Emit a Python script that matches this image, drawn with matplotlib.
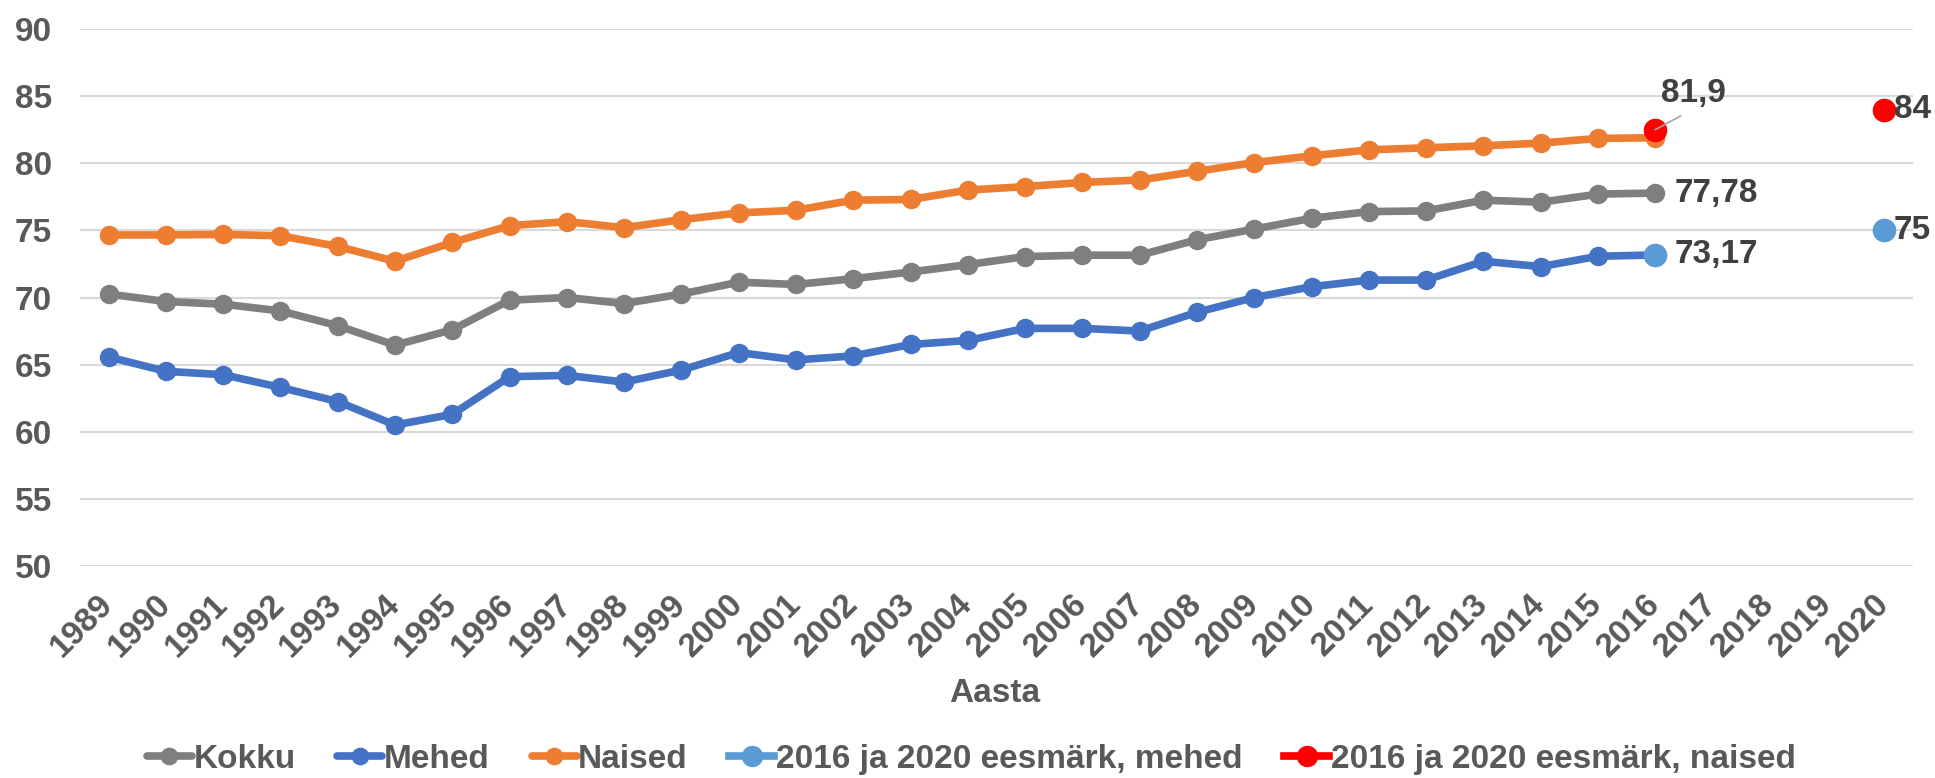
"""Eeldatav eluiga sünnimomendil, 1989-2016, koos 2016 ja 2020 eesmärkidega."""

import matplotlib
matplotlib.use("Agg")
import matplotlib.pyplot as plt
import numpy as np

years = [str(y) for y in range(1989, 2021)]

kokku = [70.26, 69.7, 69.5, 69.0, 67.9, 66.45, 67.6, 69.8, 70.0, 69.55, 70.26,
         71.14, 70.97, 71.4, 71.9, 72.45, 73.05, 73.15, 73.15, 74.3, 75.1,
         75.9, 76.4, 76.45, 77.25, 77.1, 77.7, 77.78]
mehed = [65.57, 64.5, 64.25, 63.3, 62.25, 60.5, 61.3, 64.1, 64.2, 63.7, 64.6,
         65.9, 65.35, 65.65, 66.5, 66.8, 67.7, 67.7, 67.5, 68.9, 70.0,
         70.8, 71.3, 71.3, 72.7, 72.3, 73.07, 73.17]
naised = [74.66, 74.66, 74.7, 74.6, 73.8, 72.7, 74.1, 75.35, 75.65, 75.2, 75.8,
          76.3, 76.5, 77.25, 77.3, 78.0, 78.26, 78.57, 78.75, 79.4, 80.05,
          80.55, 81.0, 81.15, 81.3, 81.5, 81.85, 81.9]

# eesmärgid: 2016 ja 2020
goal_years = ["2016", "2020"]
goal_mehed = [73.17, 75]
goal_naised = [82.5, 84]

TICK_COLOR = "#595959"
LABEL_COLOR = "#404040"
FS = 24

plt.rcParams["font.family"] = ["Liberation Sans", "DejaVu Sans"]
plt.rcParams["font.weight"] = "bold"

fig = plt.figure(figsize=(19.35, 7.78), dpi=100)
ax = fig.add_axes([80 / 1935, 1 - 566 / 778, 1833 / 1935, (566 - 29) / 778])

x = np.arange(len(years))


def series_on_axis(values, start_year):
    out = np.full(len(years), np.nan)
    i0 = years.index(start_year)
    out[i0:i0 + len(values)] = values
    return out


def goal_series(values):
    out = np.full(len(years), np.nan)
    for yr, v in zip(goal_years, values):
        out[years.index(yr)] = v
    return out


line_kw = dict(linewidth=5.5, marker="o", markersize=13, solid_capstyle="round")
ax.plot(x, series_on_axis(kokku, "1989"), color="#7F7F7F", label="Kokku", **line_kw)
ax.plot(x, series_on_axis(mehed, "1989"), color="#4472C4", label="Mehed", **line_kw)
ax.plot(x, series_on_axis(naised, "1989"), color="#ED7D31", label="Naised", **line_kw)

goal_kw = dict(linewidth=5.5, marker="o", markersize=16)
ax.plot(x, goal_series(goal_mehed), color="#5B9BD5",
        label="2016 ja 2020 eesmärk, mehed", **goal_kw)
ax.plot(x, goal_series(goal_naised), color="#FF0000",
        label="2016 ja 2020 eesmärk, naised", **goal_kw)

# andmesildid
i16 = years.index("2016")
i20 = years.index("2020")
lab_kw = dict(fontsize=FS, fontweight="bold", color=LABEL_COLOR,
              textcoords="offset points", va="center", ha="left")
ax.annotate("81,9", xy=(i16, goal_naised[0]), xytext=(4, 26),
            arrowprops=dict(arrowstyle="-", color="#A6A6A6", lw=1.2,
                            shrinkA=6, shrinkB=0, relpos=(0.5, 0)),
            **lab_kw)
ax.annotate("77,78", xy=(i16, kokku[-1]), xytext=(14, 0), **lab_kw)
ax.annotate("73,17", xy=(i16, mehed[-1]), xytext=(14, 0), **lab_kw)
ax.annotate("84", xy=(i20, goal_naised[1]), xytext=(7, 0), **lab_kw)
ax.annotate("75", xy=(i20, goal_mehed[1]), xytext=(7, 0), **lab_kw)

ax.set_xlim(-0.5, len(years) - 0.5)
ax.set_ylim(50, 90)
ax.set_yticks(range(50, 91, 5))
ax.set_xticks(x)
ax.set_xticklabels(years, rotation=45, ha="right", va="center",
                   rotation_mode="anchor")
ax.tick_params(axis="both", length=0, labelsize=FS, colors=TICK_COLOR)
ax.tick_params(axis="y", pad=20)
ax.tick_params(axis="x", pad=24)
for lbl in ax.get_xticklabels() + ax.get_yticklabels():
    lbl.set_fontweight("bold")

ax.grid(axis="y", color="#D9D9D9", linewidth=1.5)
ax.set_axisbelow(True)
for s in ax.spines.values():
    s.set_visible(False)

fig.text(995 / 1935, 1 - 693 / 778, "Aasta", ha="center", va="center",
         fontsize=FS, fontweight="bold", color=TICK_COLOR)

leg = fig.legend(loc="center", bbox_to_anchor=(0.502, 0.024), ncol=5,
                 frameon=False, fontsize=FS, handlelength=1.35,
                 handletextpad=0.05, columnspacing=1.25, markerscale=0.9,
                 borderaxespad=0, borderpad=0)
for t in leg.get_texts():
    t.set_color(TICK_COLOR)
    t.set_fontweight("bold")

fig.savefig("out.png", dpi=100)
